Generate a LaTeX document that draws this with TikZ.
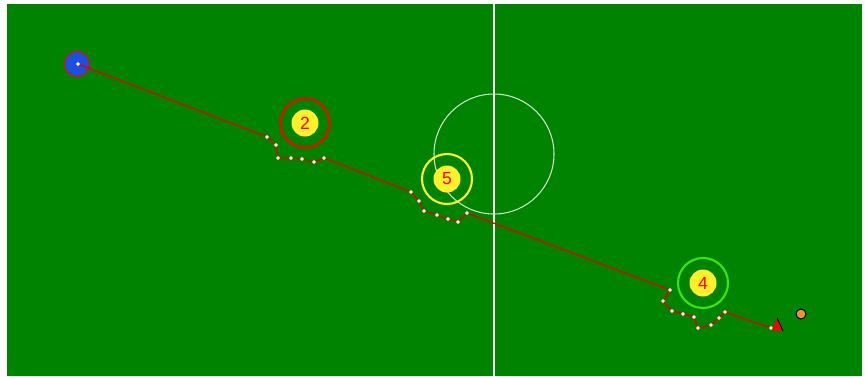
\documentclass[tikz,border=0pt]{standalone}
\usepackage{fontspec}
\setmainfont{Liberation Sans}
\usetikzlibrary{calc}
\definecolor{cesped}{RGB}{0,132,0}
\definecolor{amarillo}{RGB}{255,240,40}
\definecolor{lima}{RGB}{60,230,10}
\definecolor{azul}{RGB}{25,80,225}
\definecolor{naranja}{RGB}{245,150,20}
\tikzset{
  jugador/.style={circle,fill=amarillo,inner sep=0pt,minimum size=0.54cm,text=red,font=\fontsize{10}{10}\selectfont},
  anillo/.style={line width=1.2pt},
  ruta/.style={red!90!black,line width=0.75pt},
  punto/.style={fill=white,draw=red!30,line width=0.3pt}
}
\begin{document}
\begin{tikzpicture}[x={(0.02cm,0cm)},y={(0cm,-0.02cm)},line width=0.6pt]
  \useasboundingbox (0,0) rectangle (865,376);
  % campo
  \fill[cesped] (7,4) rectangle (862,376);
  \draw[white,line width=1.1pt] (494,4) -- (494,376);
  \draw[white!80!cesped] (494,154) circle (60);
  % jugadores
  \node[circle,fill=azul,draw=red,inner sep=0pt,minimum size=0.5cm] (port) at (77,64) {};
  \node[jugador] (j2) at (305,123) {2};
  \draw[anillo,red] (j2.center) circle (24.5);
  \node[jugador] (j5) at (447,179) {5};
  \draw[anillo,amarillo] (j5.center) circle (25);
  \node[jugador] (j4) at (703,283) {4};
  \draw[anillo,lima] (j4.center) circle (25);
  % recorrido del balon
  \coordinate (s) at (78,64);
  \coordinate (a1) at (267,137); \coordinate (a2) at (276,145); \coordinate (a3) at (278,158);
  \coordinate (a4) at (291,158); \coordinate (a5) at (302,159); \coordinate (a6) at (314,162);
  \coordinate (a7) at (324,158);
  \coordinate (b1) at (411,192); \coordinate (b2) at (419,201); \coordinate (b3) at (424,211);
  \coordinate (b4) at (437,215); \coordinate (b5) at (448,219); \coordinate (b6) at (458,222);
  \coordinate (b7) at (467,213);
  \coordinate (c1) at (670,290); \coordinate (c2) at (663,301); \coordinate (c3) at (672,311);
  \coordinate (c4) at (683,314); \coordinate (c5) at (694,317); \coordinate (c6) at (698,328);
  \coordinate (c7) at (711,325); \coordinate (c8) at (719,318); \coordinate (c9) at (725,312);
  \coordinate (f) at (771,328);
  \draw[ruta] (s)--(a1)--(a2)--(a3)--(a4)--(a5)--(a6)--(a7)--(b1)--(b2)--(b3)--(b4)--(b5)--(b6)--(b7)
    --(c1)--(c2)--(c3)--(c4)--(c5)--(c6)--(c7)--(c8)--(c9)--(f);
  \foreach \p in {s,a1,a2,a3,a4,a5,a6,a7,b1,b2,b3,b4,b5,b6,b7,c1,c2,c3,c4,c5,c6,c7,c8,c9,f}
    \filldraw[punto] (\p) circle (1.7);
  % banderin y balon
  \coordinate (t1) at (777,318); \coordinate (t2) at (772,330); \coordinate (t3) at (783,331);
  \fill[red] (t1)--(t2)--(t3)--cycle;
  \draw[black,line width=0.5pt] (t1)--(t3);
  \node[circle,fill=naranja,draw=black,inner sep=0pt,minimum size=0.2cm] (balon) at (801,314) {};
\end{tikzpicture}
\end{document}
